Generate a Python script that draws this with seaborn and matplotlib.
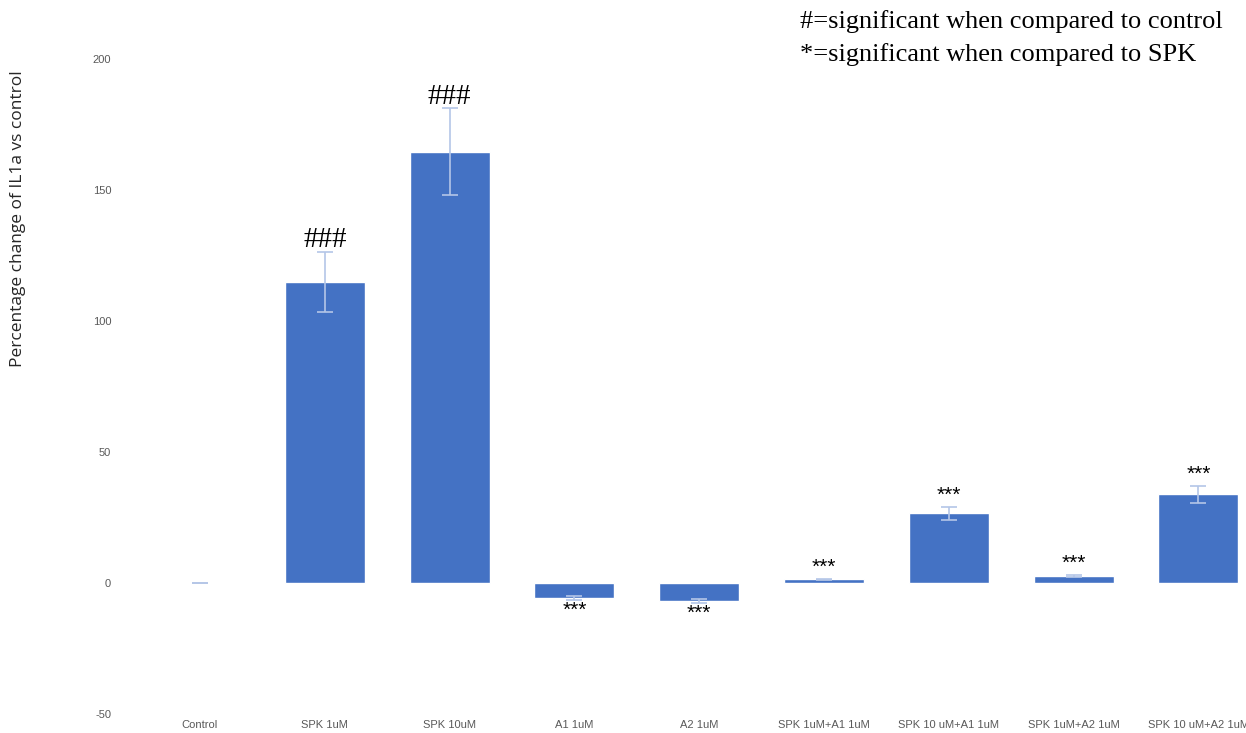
import matplotlib
matplotlib.use("Agg")
import matplotlib.pyplot as plt
import seaborn as sns
import pandas as pd

categories = ["Control", "SPK 1uM", "SPK 10uM", "A1 1uM", "A2 1uM",
              "SPK 1uM+A1 1uM", "SPK 10 uM+A1 1uM", "SPK 1uM+A2 1uM", "SPK 10 uM+A2 1uM"]
values = [0.0, 114.9, 164.6, -5.6, -6.8, 1.4, 26.6, 2.7, 33.9]
errors = [0.0, 11.4, 16.6, 0.8, 0.8, 0.3, 2.6, 0.3, 3.3]
marks = ["", "###", "###", "***", "***", "***", "***", "***", "***"]
y_ticks = [-50, 0, 50, 100, 150, 200]
legend_lines = ["#=significant when compared to control", "*=significant when compared to SPK"]

df = pd.DataFrame({"cat": categories, "val": values})

sns.set_style("white")
fig = plt.figure(figsize=(12.46, 7.33), dpi=100)
ax = fig.add_axes([0.1104, 0.0259, 0.9015, 0.8936])

sns.barplot(data=df, x="cat", y="val", order=categories, color="#4472C4",
            saturation=1, width=0.64, errorbar=None, ax=ax)
xs = list(range(len(categories)))
ax.errorbar(xs, values, yerr=errors, fmt="none", ecolor="#B4C6E7",
            elinewidth=1.2, capsize=6, capthick=1.2, zorder=3)

ax.set_ylim(-50, 200)
ax.set_xlim(-0.5, len(categories) - 0.5)
ax.set_yticks(y_ticks)
ax.set_yticklabels([str(t) for t in y_ticks])
for s in ax.spines.values():
    s.set_visible(False)
ax.tick_params(axis="both", length=0, labelsize=8, colors="#595959")
ax.tick_params(axis="y", pad=19)
ax.tick_params(axis="x", pad=4)
for lbl in ax.get_xticklabels() + ax.get_yticklabels():
    lbl.set_fontfamily("Liberation Sans")
ax.set_xlabel("")
ax.set_ylabel("")

fig.text(18 / 1246, 1 - 219 / 733, "Percentage change of IL1a vs control",
         rotation=90, ha="center", va="center", fontsize=12.5,
         family="Open Sans", color="#262626")

for i, (v, e, m) in enumerate(zip(values, errors, marks)):
    if not m:
        continue
    if m == "###":
        ax.text(i, v + e - 0.5, m, ha="center", va="bottom", fontsize=21,
                family="Liberation Serif", color="black")
    else:
        if v < 0:
            ax.text(i, v - e - 0.3, m, ha="center", va="top", fontsize=15,
                    family="Liberation Sans", color="black")
        else:
            ax.text(i, v + e + 0.8, m, ha="center", va="bottom", fontsize=15,
                    family="Liberation Sans", color="black")

fig.text(800 / 1246, 1 - 22 / 733, legend_lines[0], ha="left", va="center",
         fontsize=19, family="Liberation Serif", color="black")
fig.text(800 / 1246, 1 - 55 / 733, legend_lines[1], ha="left", va="center",
         fontsize=19, family="Liberation Serif", color="black")

fig.savefig("out.png", dpi=100)
